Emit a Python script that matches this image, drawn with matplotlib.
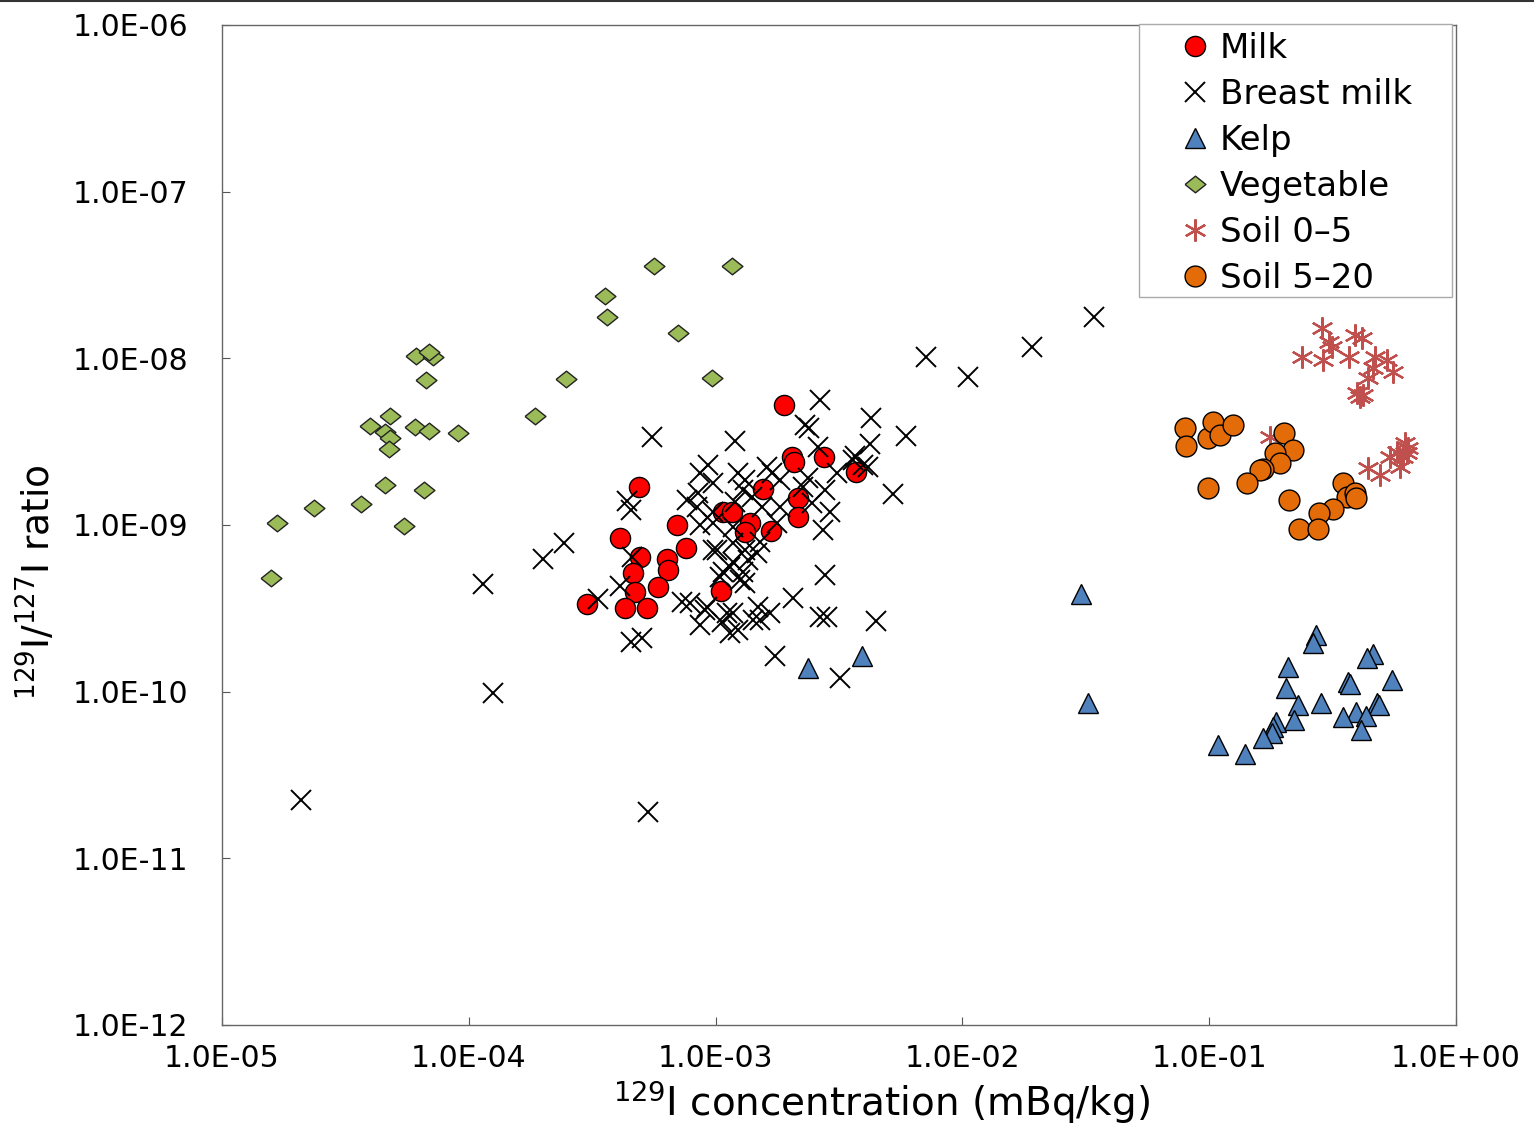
import matplotlib
matplotlib.use('Agg')
import matplotlib.pyplot as plt
from matplotlib.patches import Rectangle
from matplotlib.lines import Line2D
from matplotlib.ticker import NullLocator

# ---------------- data ----------------
milk_x = [1.89e-3, 2.04e-3, 2.08e-3, 2.75e-3, 3.71e-3, 4.89e-4, 1.56e-3, 2.16e-3, 2.16e-3,
          1.07e-3, 1.17e-3, 6.98e-4, 1.38e-3, 1.32e-3, 1.68e-3, 4.10e-4, 7.59e-4, 4.94e-4,
          6.35e-4, 6.41e-4, 4.63e-4, 5.84e-4, 4.72e-4, 1.05e-3, 3.01e-4, 4.30e-4, 5.27e-4]
milk_y = [5.25e-9, 2.56e-9, 2.39e-9, 2.56e-9, 2.08e-9, 1.69e-9, 1.64e-9, 1.45e-9, 1.12e-9,
          1.20e-9, 1.20e-9, 1.00e-9, 1.03e-9, 9.08e-10, 9.20e-10, 8.36e-10, 7.28e-10, 6.43e-10,
          6.25e-10, 5.37e-10, 5.15e-10, 4.25e-10, 3.96e-10, 4.02e-10, 3.36e-10, 3.18e-10, 3.18e-10]

breast_x = [2.09e-5, 5.32e-4, 1.25e-4, 1.14e-4, 2.00e-4, 2.43e-4, 3.34e-4, 4.10e-4, 4.38e-4,
            4.54e-4, 5.53e-4, 1.20e-3, 2.65e-3, 2.30e-3, 2.39e-3, 4.26e-3, 5.91e-3, 4.22e-3,
            4.14e-3, 3.67e-3, 5.23e-3, 7.12e-3, 1.05e-2, 1.91e-2, 3.41e-2, 4.54e-4, 5.03e-4,
            3.19e-3, 1.74e-3, 4.47e-3, 2.65e-3, 2.83e-3, 2.77e-3, 2.06e-3, 7.31e-4, 4.58e-4,
            2.60e-3,
            9.31e-4, 8.65e-4, 9.76e-4, 8.48e-4, 1.23e-3, 1.32e-3, 1.29e-3, 1.62e-3, 1.69e-3,
            1.82e-3, 2.37e-3, 2.26e-3, 3.10e-3, 3.60e-3, 3.96e-3, 2.77e-3, 2.91e-3, 2.46e-3,
            1.82e-3, 1.77e-3, 1.54e-3, 1.40e-3, 1.20e-3, 9.76e-4, 8.41e-4, 7.66e-4, 9.76e-4,
            8.65e-4, 1.18e-3, 1.51e-3, 1.32e-3, 1.18e-3, 9.76e-4, 2.72e-3, 1.29e-3, 1.14e-3,
            1.04e-3, 1.32e-3, 7.87e-4, 9.06e-4, 1.11e-3, 1.06e-3, 1.49e-3, 1.66e-3, 1.51e-3,
            1.23e-3, 1.07e-3, 1.26e-3, 1.35e-3, 1.47e-3, 1.18e-3, 1.01e-3, 8.65e-4, 9.23e-4,
            1.42e-3, 1.18e-3, 1.14e-3]
breast_y = [2.24e-11, 1.90e-11, 9.80e-11, 4.43e-10, 6.25e-10, 7.80e-10, 3.60e-10, 4.31e-10, 1.39e-9,
            1.23e-9, 3.37e-9, 3.19e-9, 5.62e-9, 3.98e-9, 3.82e-9, 4.39e-9, 3.42e-9, 3.06e-9,
            2.23e-9, 2.59e-9, 1.53e-9, 1.02e-8, 7.73e-9, 1.17e-8, 1.77e-8, 1.99e-10, 2.10e-10,
            1.21e-10, 1.64e-10, 2.66e-10, 2.81e-10, 2.81e-10, 5.01e-10, 3.65e-10, 3.45e-10, 6.43e-10,
            2.94e-9,
            2.29e-9, 2.05e-9, 1.79e-9, 1.56e-9, 2.05e-9, 1.86e-9, 1.62e-9, 2.23e-9, 2.05e-9,
            1.86e-9, 1.91e-9, 1.69e-9, 2.05e-9, 2.45e-9, 2.29e-9, 1.62e-9, 1.20e-9, 1.36e-9,
            1.28e-9, 1.03e-9, 1.28e-9, 1.47e-9, 1.37e-9, 1.20e-9, 1.28e-9, 1.41e-9, 1.03e-9,
            1.00e-9, 9.73e-10, 7.91e-10, 7.08e-10, 7.80e-10, 7.08e-10, 9.34e-10, 5.23e-10, 5.60e-10,
            4.88e-10, 4.49e-10, 3.41e-10, 3.09e-10, 2.97e-10, 2.62e-10, 3.22e-10, 2.97e-10, 2.69e-10,
            2.34e-10, 5.23e-10, 4.68e-10, 6.17e-10, 6.79e-10, 6.00e-10, 7.08e-10, 2.51e-10, 3.22e-10,
            2.69e-10, 2.97e-10, 2.25e-10]

kelp_x = [2.37e-3, 3.92e-3, 3.02e-2, 3.23e-2, 1.09e-1, 1.40e-1, 2.71e-1, 2.63e-1, 2.09e-1,
          2.05e-1, 2.29e-1, 2.84e-1, 2.21e-1, 1.87e-1, 1.81e-1, 1.80e-1, 1.65e-1, 4.61e-1,
          4.36e-1, 3.65e-1, 3.72e-1, 5.51e-1, 4.79e-1, 4.88e-1, 3.94e-1, 3.48e-1, 4.32e-1, 4.12e-1]
kelp_y = [1.39e-10, 1.64e-10, 3.86e-10, 8.55e-11, 4.79e-11, 4.23e-11, 2.19e-10, 1.96e-10, 1.41e-10,
          1.05e-10, 8.32e-11, 8.55e-11, 6.76e-11, 6.58e-11, 6.14e-11, 5.65e-11, 5.27e-11, 1.68e-10,
          1.59e-10, 1.14e-10, 1.11e-10, 1.17e-10, 8.55e-11, 8.32e-11, 7.55e-11, 7.05e-11, 7.14e-11, 5.89e-11]

veg_x = [5.63e-4, 1.17e-3, 3.56e-4, 3.63e-4, 7.04e-4, 6.11e-5, 7.16e-5, 6.90e-5, 6.71e-5,
         2.48e-4, 9.67e-4, 1.85e-4, 4.80e-5, 3.98e-5, 4.57e-5, 6.05e-5, 6.90e-5, 9.04e-5,
         4.80e-5, 4.75e-5, 4.57e-5, 6.58e-5, 2.36e-5, 3.66e-5, 1.67e-5, 5.46e-5, 1.58e-5]
veg_y = [3.58e-8, 3.58e-8, 2.36e-8, 1.77e-8, 1.42e-8, 1.03e-8, 1.02e-8, 1.09e-8, 7.41e-9,
         7.52e-9, 7.62e-9, 4.51e-9, 4.51e-9, 3.93e-9, 3.61e-9, 3.87e-9, 3.66e-9, 3.56e-9,
         3.33e-9, 2.86e-9, 1.74e-9, 1.62e-9, 1.26e-9, 1.34e-9, 1.03e-9, 9.87e-10, 4.81e-10]

soil05_x = [2.86e-1, 3.06e-1, 3.15e-1, 2.38e-1, 2.89e-1, 3.69e-1, 3.90e-1, 4.16e-1, 4.70e-1,
            5.25e-1, 4.61e-1, 5.56e-1, 4.40e-1, 4.08e-1, 3.97e-1, 4.20e-1, 1.76e-1, 4.40e-1,
            4.92e-1, 5.40e-1, 5.93e-1, 6.21e-1, 6.33e-1, 6.10e-1, 5.77e-1, 6.39e-1]
soil05_y = [1.52e-8, 1.25e-8, 1.17e-8, 1.02e-8, 9.77e-9, 1.02e-8, 1.38e-8, 1.32e-8, 1.02e-8,
            9.77e-9, 8.75e-9, 8.28e-9, 7.62e-9, 5.86e-9, 6.19e-9, 6.03e-9, 3.37e-9, 2.20e-9,
            2.00e-9, 2.56e-9, 2.23e-9, 3.10e-9, 2.70e-9, 2.56e-9, 2.74e-9, 2.90e-9]

soil520_x = [7.98e-2, 8.05e-2, 9.89e-2, 1.04e-1, 1.11e-1, 1.25e-1, 2.01e-1, 2.19e-1, 1.85e-1,
             1.94e-1, 1.65e-1, 1.61e-1, 9.90e-2, 1.42e-1, 2.10e-1, 3.48e-1, 3.62e-1, 3.90e-1,
             3.94e-1, 3.18e-1, 2.79e-1, 2.31e-1, 2.76e-1]
soil520_y = [3.82e-9, 2.98e-9, 3.33e-9, 4.15e-9, 3.47e-9, 3.98e-9, 3.56e-9, 2.82e-9, 2.70e-9,
             2.36e-9, 2.17e-9, 2.14e-9, 1.67e-9, 1.79e-9, 1.41e-9, 1.79e-9, 1.47e-9, 1.56e-9,
             1.45e-9, 1.25e-9, 1.18e-9, 9.46e-10, 9.46e-10]

series_labels = ["Milk", "Breast milk", "Kelp", "Vegetable", "Soil 0\u20135", "Soil 5\u201320"]

xtick_vals = [1e-5, 1e-4, 1e-3, 1e-2, 1e-1, 1e0]
xtick_labels = ["1.0E-05", "1.0E-04", "1.0E-03", "1.0E-02", "1.0E-01", "1.0E+00"]
ytick_vals = [1e-12, 1e-11, 1e-10, 1e-9, 1e-8, 1e-7, 1e-6]
ytick_labels = ["1.0E-12", "1.0E-11", "1.0E-10", "1.0E-09", "1.0E-08", "1.0E-07", "1.0E-06"]

# ---------------- figure ----------------
W, H = 1534, 1127
fig = plt.figure(figsize=(W / 100, H / 100), dpi=100)
fig.patch.set_facecolor('white')
ax = fig.add_axes([222 / W, 1 - 1025 / H, (1456 - 222) / W, 1000 / H])
ax.set_xscale('log')
ax.set_yscale('log')
ax.set_xlim(1e-5, 1)
ax.set_ylim(1e-12, 1e-6)

diamond = [(-1, 0), (0, 0.8), (1, 0), (0, -0.8), (-1, 0)]

h_milk, = ax.plot(milk_x, milk_y, ls='none', marker='o', ms=14.5, mfc='#FF0000',
                  mec='black', mew=1.0, label=series_labels[0], zorder=3)
h_breast, = ax.plot(breast_x, breast_y, ls='none', marker='x', ms=14, mec='black',
                    mew=1.4, label=series_labels[1], zorder=4)
h_kelp, = ax.plot(kelp_x, kelp_y, ls='none', marker='^', ms=14.5, mfc='#4F81BD',
                  mec='black', mew=1.0, label=series_labels[2], zorder=3)
h_veg, = ax.plot(veg_x, veg_y, ls='none', marker=diamond, ms=15, mfc='#9BBB59',
                 mec='#222222', mew=1.0, label=series_labels[3], zorder=3)
h_s05, = ax.plot(soil05_x, soil05_y, ls='none', marker=(6, 2, 0), ms=16, mec='#C0504D',
                 mew=1.6, label=series_labels[4], zorder=3)
h_s520, = ax.plot(soil520_x, soil520_y, ls='none', marker='o', ms=15, mfc='#E36C09',
                  mec='black', mew=1.0, label=series_labels[5], zorder=4)

ax.set_xticks(xtick_vals, xtick_labels)
ax.set_yticks(ytick_vals, ytick_labels)
ax.xaxis.set_minor_locator(NullLocator())
ax.yaxis.set_minor_locator(NullLocator())
ax.tick_params(axis='both', direction='in', length=6, width=0.8, color='#555555',
               labelsize=21.5, labelcolor='black')
ax.tick_params(axis='x', pad=14)
ax.tick_params(axis='y', pad=24)
for sp in ax.spines.values():
    sp.set_color('#666666')
    sp.set_linewidth(1.0)

# legend frame (separate rectangle) + legend
x0 = (1139 - 222) / 1234
x1 = (1452 - 222) / 1234
y0 = (1025 - 297) / 1000
y1 = (1025 - 24) / 1000
ax.add_patch(Rectangle((x0, y0), x1 - x0, y1 - y0, transform=ax.transAxes,
                       facecolor='white', edgecolor='#AAAAAA', lw=1.0, zorder=5, clip_on=False))
leg = ax.legend(handles=[h_milk, h_breast, h_kelp, h_veg, h_s05, h_s520],
                loc='upper left', bbox_to_anchor=((1178 - 222) / 1234, (1025 - 32) / 1000),
                frameon=False, borderpad=0, borderaxespad=0, handlelength=1.0,
                handletextpad=0.22, labelspacing=0.38, fontsize=24.5)
leg.set_zorder(6)

fig.text(881 / W, 1 - 1102 / H, r'$^{129}$I concentration (mBq/kg)', fontsize=28,
         ha='center', va='center')
fig.text(37 / W, 1 - 582 / H, r'$^{129}$I/$^{127}$I ratio', fontsize=27,
         ha='center', va='center', rotation=90)

fig.add_artist(Line2D([0, 1], [1 - 1 / H, 1 - 1 / H], transform=fig.transFigure,
                      color='#333333', lw=1.5))

fig.savefig('out.png', dpi=100, facecolor='white')
